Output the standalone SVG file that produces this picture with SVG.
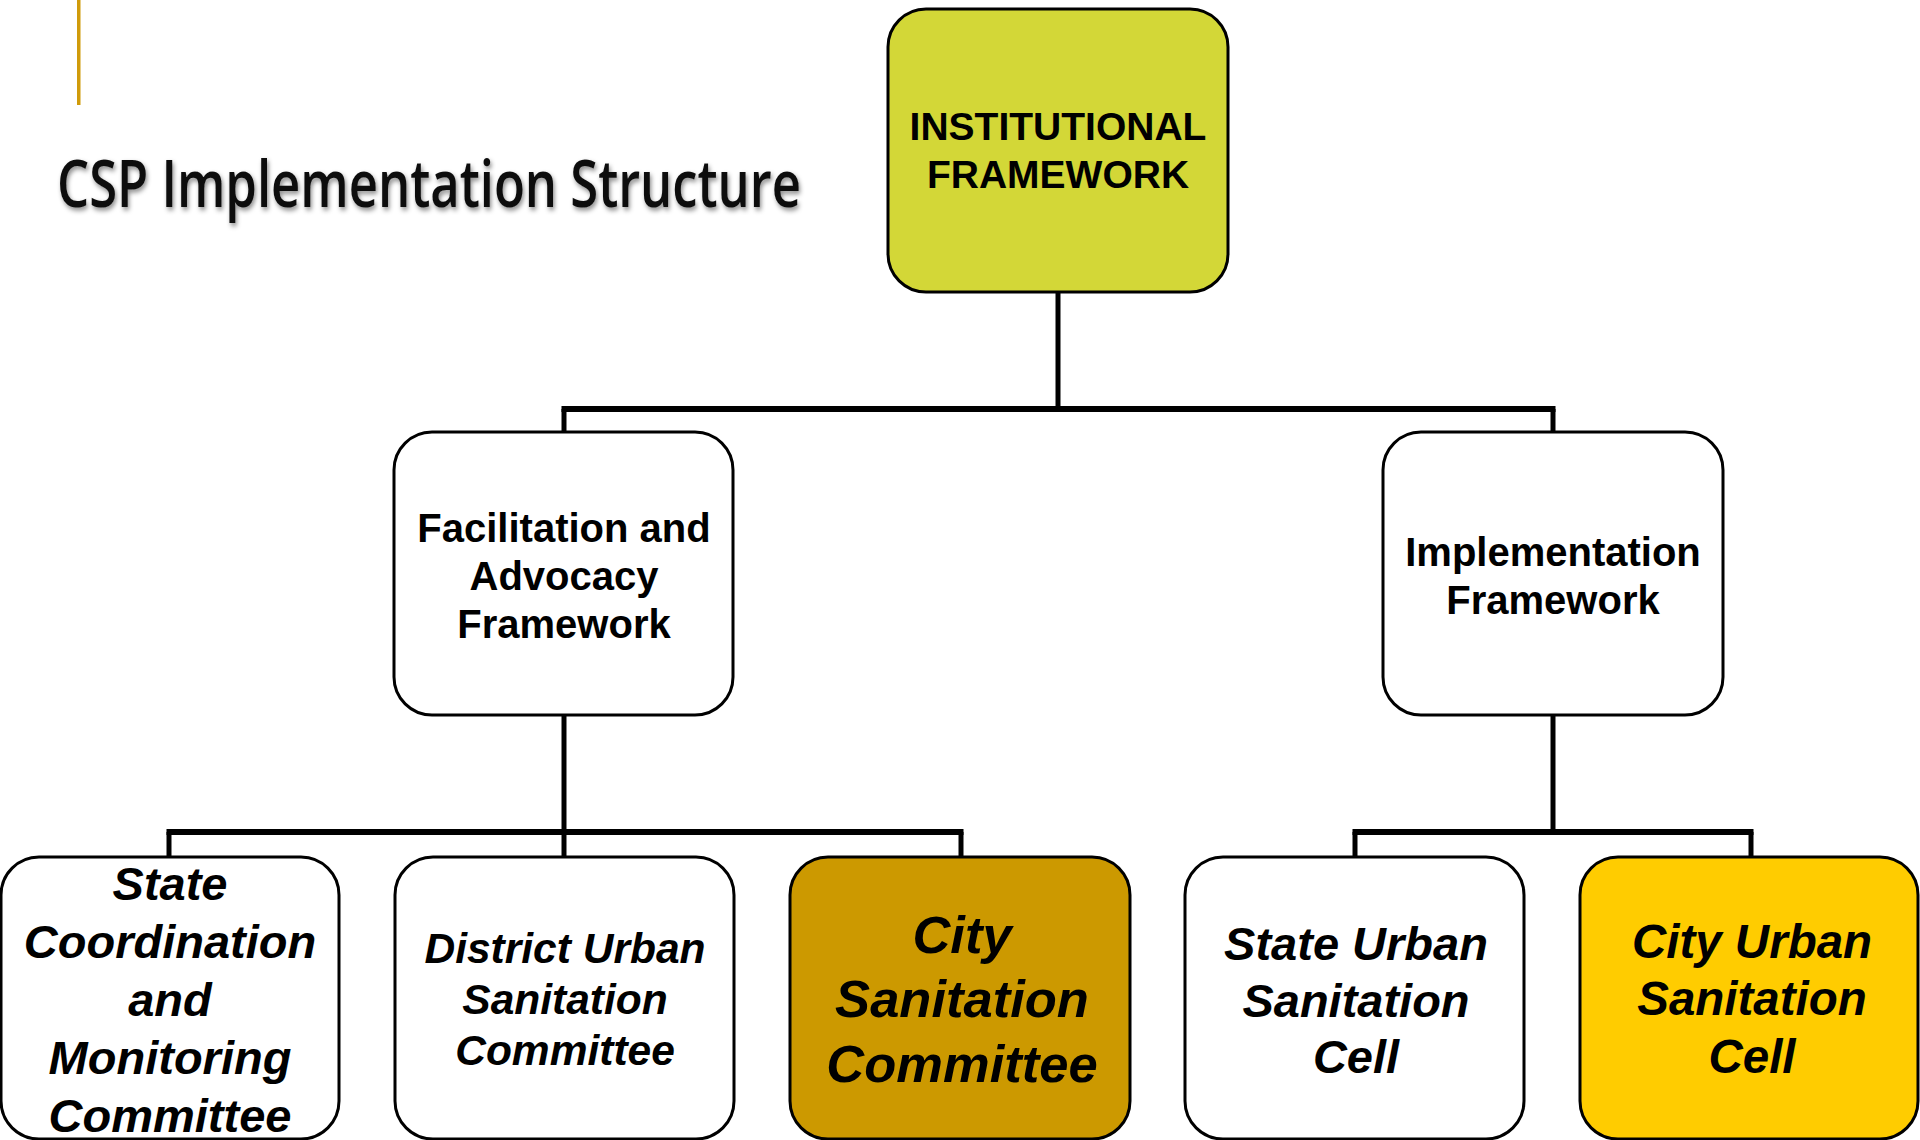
<svg xmlns="http://www.w3.org/2000/svg" width="1920" height="1140" viewBox="0 0 1920 1140">
  <defs>
    <filter id="shadow" x="-5%" y="-20%" width="110%" height="160%">
      <feDropShadow dx="2" dy="3" stdDeviation="2.5" flood-color="#000" flood-opacity="0.45"/>
    </filter>
  </defs>
  <style>
    .box { stroke: #000; stroke-width: 3; }
    .plain { fill: #fff; }
    .lime { fill: #D3D737; }
    .gold { fill: #CC9900; }
    .amber { fill: #FFCC00; }
    .t { font-family: "Liberation Sans", Arial, sans-serif; font-weight: bold; fill: #000; text-anchor: middle; }
    .ti { font-family: "Liberation Sans", Arial, sans-serif; font-weight: bold; font-style: italic; fill: #000; text-anchor: middle; }
    .conn line { stroke: #000; }
    .v { stroke-width: 5; }
    .h { stroke-width: 6; }
  </style>
  <rect width="1920" height="1140" fill="#fff"/>

  <!-- decoration and title -->
  <rect x="77" y="0" width="3.5" height="105" fill="#D09B0A"/>
  <text transform="scale(0.75,1)" x="76" y="207" font-family="'Open Sans', 'Noto Sans', sans-serif" font-size="66" font-weight="600" fill="#111" textLength="992" lengthAdjust="spacingAndGlyphs" filter="url(#shadow)">CSP Implementation Structure</text>

  <!-- connectors -->
  <g id="connectors" class="conn">
    <line class="v" x1="1058" y1="292" x2="1058" y2="409"/>
    <line class="h" x1="561.5" y1="409" x2="1555.5" y2="409"/>
    <line class="v" x1="564" y1="409" x2="564" y2="432"/>
    <line class="v" x1="1553" y1="409" x2="1553" y2="432"/>

    <line class="v" x1="564" y1="715" x2="564" y2="832"/>
    <line class="h" x1="166.5" y1="832" x2="963.5" y2="832"/>
    <line class="v" x1="169" y1="832" x2="169" y2="857"/>
    <line class="v" x1="564" y1="832" x2="564" y2="857"/>
    <line class="v" x1="961" y1="832" x2="961" y2="857"/>

    <line class="v" x1="1553" y1="715" x2="1553" y2="832"/>
    <line class="h" x1="1352.5" y1="832" x2="1753.5" y2="832"/>
    <line class="v" x1="1355" y1="832" x2="1355" y2="857"/>
    <line class="v" x1="1751" y1="832" x2="1751" y2="857"/>
  </g>

  <g id="institutional">
    <rect class="box lime" x="888" y="9" width="340" height="283" rx="38" ry="38"/>
    <text class="t" font-size="39" x="1058" y="140">INSTITUTIONAL</text>
    <text class="t" font-size="39" x="1058" y="188">FRAMEWORK</text>
  </g>

  <g id="facilitation">
    <rect class="box plain" x="394" y="432" width="339" height="283" rx="38" ry="38"/>
    <text class="t" font-size="40" x="564" y="542">Facilitation and</text>
    <text class="t" font-size="40" x="564" y="590">Advocacy</text>
    <text class="t" font-size="40" x="564" y="638">Framework</text>
  </g>

  <g id="implementation">
    <rect class="box plain" x="1383" y="432" width="340" height="283" rx="38" ry="38"/>
    <text class="t" font-size="40" x="1553" y="566">Implementation</text>
    <text class="t" font-size="40" x="1553" y="614">Framework</text>
  </g>

  <g id="state-coordination">
    <rect class="box plain" x="1" y="857" width="338" height="282" rx="38" ry="38"/>
    <text class="ti" font-size="47" x="170" y="900">State</text>
    <text class="ti" font-size="47" x="170" y="958">Coordination</text>
    <text class="ti" font-size="47" x="170" y="1016">and</text>
    <text class="ti" font-size="47" x="170" y="1074">Monitoring</text>
    <text class="ti" font-size="47" x="170" y="1132">Committee</text>
  </g>

  <g id="district-urban">
    <rect class="box plain" x="395" y="857" width="339" height="282" rx="38" ry="38"/>
    <text class="ti" font-size="42.5" x="565" y="963">District Urban</text>
    <text class="ti" font-size="42.5" x="565" y="1014">Sanitation</text>
    <text class="ti" font-size="42.5" x="565" y="1065">Committee</text>
  </g>

  <g id="city-sanitation">
    <rect class="box gold" x="790" y="857" width="340" height="282" rx="38" ry="38"/>
    <text class="ti" font-size="52.5" x="962" y="953">City</text>
    <text class="ti" font-size="52.5" x="962" y="1017">Sanitation</text>
    <text class="ti" font-size="52.5" x="962" y="1082">Committee</text>
  </g>

  <g id="state-urban-cell">
    <rect class="box plain" x="1185" y="857" width="339" height="282" rx="38" ry="38"/>
    <text class="ti" font-size="47" x="1356" y="960">State Urban</text>
    <text class="ti" font-size="47" x="1356" y="1017">Sanitation</text>
    <text class="ti" font-size="47" x="1356" y="1073">Cell</text>
  </g>

  <g id="city-urban-cell">
    <rect class="box amber" x="1580" y="857" width="338" height="282" rx="38" ry="38"/>
    <text class="ti" font-size="47.5" x="1752" y="958">City Urban</text>
    <text class="ti" font-size="47.5" x="1752" y="1015">Sanitation</text>
    <text class="ti" font-size="47.5" x="1752" y="1073">Cell</text>
  </g>
</svg>
